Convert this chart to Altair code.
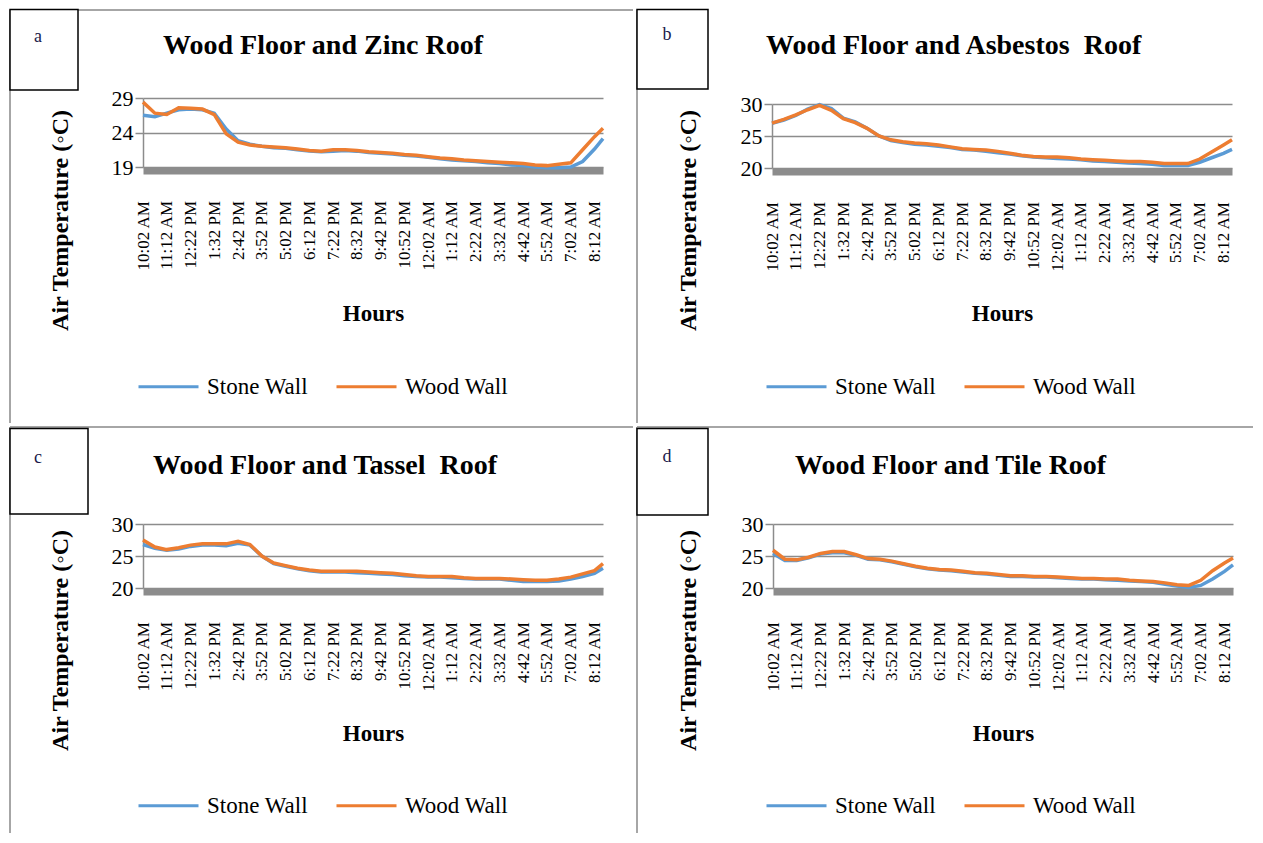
import altair as alt
import pandas as pd

# ---------------- data ----------------
minutes = list(range(0, 1331, 35)) + [1355]   # minutes after 10:02 AM
tick_values = list(range(0, 1331, 70))
tick_labels = ["10:02 AM", "11:12 AM", "12:22 PM", "1:32 PM", "2:42 PM", "3:52 PM",
               "5:02 PM", "6:12 PM", "7:22 PM", "8:32 PM", "9:42 PM", "10:52 PM",
               "12:02 AM", "1:12 AM", "2:22 AM", "3:32 AM", "4:42 AM", "5:52 AM",
               "7:02 AM", "8:12 AM"]
series_names = ["Stone Wall", "Wood Wall"]

zinc_stone = [26.5, 26.3, 26.8, 27.3, 27.4, 27.3, 26.8, 24.5, 22.8, 22.3, 22.0, 21.8, 21.7, 21.5,
              21.3, 21.2, 21.3, 21.4, 21.3, 21.1, 21.0, 20.9, 20.7, 20.6, 20.4, 20.2, 20.0, 19.9,
              19.8, 19.6, 19.5, 19.3, 19.2, 19.0, 18.9, 18.9, 19.0, 19.8, 21.6, 23.1]
zinc_wood = [28.4, 26.8, 26.6, 27.6, 27.5, 27.4, 26.6, 23.8, 22.6, 22.2, 22.0, 21.9, 21.8, 21.6,
             21.4, 21.3, 21.5, 21.5, 21.4, 21.2, 21.1, 21.0, 20.8, 20.7, 20.5, 20.3, 20.2, 20.0,
             19.9, 19.8, 19.7, 19.6, 19.5, 19.3, 19.2, 19.4, 19.6, 21.5, 23.4, 24.6]

asb_stone = [27.0, 27.5, 28.2, 29.2, 29.9, 29.3, 27.8, 27.2, 26.2, 25.0, 24.3, 24.0, 23.7, 23.6,
             23.4, 23.2, 22.9, 22.8, 22.6, 22.4, 22.2, 21.9, 21.7, 21.6, 21.5, 21.4, 21.3, 21.1,
             21.0, 20.9, 20.8, 20.7, 20.6, 20.4, 20.4, 20.4, 20.9, 21.6, 22.3, 22.9]
asb_wood = [27.0, 27.6, 28.3, 29.1, 29.8, 29.0, 27.7, 27.1, 26.2, 25.0, 24.4, 24.1, 23.9, 23.8,
            23.6, 23.3, 23.0, 22.9, 22.8, 22.6, 22.3, 22.0, 21.8, 21.7, 21.7, 21.6, 21.4, 21.3,
            21.2, 21.1, 21.0, 21.0, 20.9, 20.7, 20.7, 20.7, 21.4, 22.5, 23.6, 24.4]

tas_stone = [26.8, 26.2, 25.9, 26.1, 26.5, 26.7, 26.7, 26.6, 27.0, 26.7, 25.0, 23.8, 23.4, 23.0,
             22.7, 22.5, 22.5, 22.5, 22.4, 22.3, 22.2, 22.1, 21.9, 21.8, 21.7, 21.7, 21.6, 21.5,
             21.4, 21.4, 21.4, 21.2, 21.0, 21.0, 21.0, 21.1, 21.4, 21.8, 22.3, 23.1]
tas_wood = [27.5, 26.4, 26.0, 26.3, 26.7, 26.9, 26.9, 26.9, 27.3, 26.8, 25.0, 23.9, 23.5, 23.1,
            22.8, 22.6, 22.6, 22.6, 22.6, 22.5, 22.4, 22.3, 22.1, 21.9, 21.8, 21.8, 21.8, 21.6,
            21.5, 21.5, 21.5, 21.4, 21.3, 21.2, 21.2, 21.4, 21.7, 22.2, 22.7, 23.8]

tile_stone = [25.4, 24.3, 24.3, 24.7, 25.3, 25.5, 25.5, 25.1, 24.5, 24.4, 24.1, 23.7, 23.3, 23.0,
              22.8, 22.7, 22.5, 22.3, 22.2, 22.0, 21.8, 21.8, 21.7, 21.7, 21.6, 21.5, 21.4, 21.4,
              21.3, 21.2, 21.1, 21.0, 20.9, 20.6, 20.3, 20.1, 20.4, 21.4, 22.6, 23.6]
tile_wood = [25.9, 24.5, 24.4, 24.8, 25.4, 25.7, 25.7, 25.2, 24.6, 24.5, 24.2, 23.8, 23.4, 23.1,
             22.9, 22.8, 22.6, 22.4, 22.3, 22.1, 21.9, 21.9, 21.8, 21.8, 21.7, 21.6, 21.5, 21.5,
             21.4, 21.4, 21.2, 21.1, 21.0, 20.8, 20.5, 20.4, 21.2, 22.7, 23.9, 24.7]

# ---------------- style ----------------
SERIF = "Liberation Serif"
BLUE = "#5B9BD5"
ORANGE = "#ED7D31"
GRID = "#8c8c8c"
BORDER = "#a6a6a6"
W = 460

label_expr = "[" + ",".join("'%s'" % t for t in tick_labels) + "][round(datum.value/70)]"
one = alt.Data(values=[{"k": 0}])


def panel(p):
    ox, oy = p["origin"]            # page position of the plot area's top-left corner
    rx = lambda v: v - ox
    ry = lambda v: v - oy
    H = p["H"]
    df = pd.DataFrame({
        "minute": minutes + minutes,
        "temp": p["stone"] + p["wood"],
        "series": [series_names[0]] * len(minutes) + [series_names[1]] * len(minutes),
    })
    L, R, T, B = p["bounds"]
    layers = [alt.Chart(one).mark_rect(opacity=0).encode(
        x=alt.value(rx(L)), x2=alt.value(rx(R)), y=alt.value(ry(T)), y2=alt.value(ry(B)))]
    for (x1, x2, y1, y2) in p["rules"]:
        layers.append(alt.Chart(one).mark_rule(color=BORDER, strokeWidth=2).encode(
            x=alt.value(rx(x1)), x2=alt.value(rx(x2)), y=alt.value(ry(y1)), y2=alt.value(ry(y2))))
    bx = p["box"]
    layers.append(alt.Chart(one).mark_rect(fill="white", stroke="black", strokeWidth=1.5).encode(
        x=alt.value(rx(bx[0])), x2=alt.value(rx(bx[1])), y=alt.value(ry(bx[2])), y2=alt.value(ry(bx[3]))))
    layers.append(alt.Chart(one).mark_text(font=SERIF, fontSize=18, color="#1a1a4a",
                                           align="center", baseline="middle").encode(
        x=alt.value(rx(p["letter_pos"][0])), y=alt.value(ry(p["letter_pos"][1])),
        text=alt.value(p["letter"])))
    layers.append(alt.Chart(one).mark_text(font=SERIF, fontSize=28, fontWeight="bold",
                                           color="black", align="left", baseline="middle").encode(
        x=alt.value(rx(p["title_pos"][0])), y=alt.value(ry(p["title_pos"][1])),
        text=alt.value(p["title"])))

    lines_chart = alt.Chart(df).mark_line(strokeWidth=3.5).encode(
        x=alt.X("minute:Q",
                scale=alt.Scale(domain=[0, 1355], nice=False, zero=False),
                axis=alt.Axis(values=tick_values, labelExpr=label_expr, labelAngle=270,
                              labelFont=SERIF, labelFontSize=17, labelColor="black",
                              labelPadding=30, ticks=False, grid=False,
                              domainColor=GRID, domainWidth=7, offset=3.5,
                              labelOverlap=False, labelFlush=False, labelBound=False,
                              title="Hours", titleFont=SERIF, titleFontSize=23,
                              titleFontWeight="bold", titleColor="black",
                              titleX=W / 2, titleY=ry(p["hours_y"]) - H - 3.5,
                              titleAlign="center", titleBaseline="middle")),
        y=alt.Y("temp:Q",
                scale=alt.Scale(domain=p["ydom"], range=p["yrange"], nice=False, zero=False),
                axis=alt.Axis(values=p["yvals"], grid=True, gridColor=GRID, gridWidth=1.5,
                              domainColor=GRID, domainWidth=1.5, tickColor=GRID,
                              tickSize=8, tickWidth=1.5, labelFont=SERIF,
                              labelFontSize=22, labelColor="black", labelPadding=2,
                              title="Air Temperature (\u25e6C)", titleFont=SERIF,
                              titleFontSize=24, titleFontWeight="bold", titleColor="black",
                              titleX=rx(p["ytitle_pos"][0]), titleY=ry(p["ytitle_pos"][1]),
                              titleAngle=270, titleAlign="center", titleBaseline="middle")),
        color=alt.Color("series:N",
                        scale=alt.Scale(domain=series_names, range=[BLUE, ORANGE]),
                        legend=alt.Legend(orient="none",
                                          legendX=rx(p["legend_pos"][0]) - 3,
                                          legendY=ry(p["legend_pos"][1]) - 29,
                                          direction="horizontal",
                                          title=None, symbolType="stroke", symbolSize=3600,
                                          symbolStrokeWidth=3, labelFont=SERIF,
                                          labelFontSize=23, labelColor="black",
                                          labelOffset=7, columnPadding=22)),
    ).properties(width=W, height=H)
    layers.append(lines_chart)
    return alt.layer(*layers)


panels = [
    dict(letter="a", title="Wood Floor and Zinc Roof", stone=zinc_stone, wood=zinc_wood,
         ydom=[19, 29], yvals=[19, 24, 29], H=69, yrange=[69, 0], origin=(143, 98),
         bounds=(8, 635, 8, 425), rules=[(10, 633, 10, 10), (10, 10, 10, 423)],
         box=(10, 78, 9.5, 90), letter_pos=(38, 37), title_pos=(163, 46),
         ytitle_pos=(60, 220), legend_pos=(140, 384), hours_y=313),
    dict(letter="b", title="Wood Floor and Asbestos\u00a0 Roof", stone=asb_stone, wood=asb_wood,
         ydom=[20, 30], yvals=[20, 25, 30], H=70, yrange=[70, 6], origin=(772, 98),
         bounds=(635, 1255, 8, 425), rules=[(637, 637, 10, 423)],
         box=(637, 708, 9.5, 89), letter_pos=(667, 35), title_pos=(766, 46),
         ytitle_pos=(688, 220), legend_pos=(768, 384), hours_y=313),
    dict(letter="c", title="Wood Floor and Tassel\u00a0 Roof", stone=tas_stone, wood=tas_wood,
         ydom=[20, 30], yvals=[20, 25, 30], H=64, yrange=[64, 0], origin=(143, 524),
         bounds=(8, 635, 425, 835), rules=[(10, 633, 427, 427), (10, 10, 427, 833)],
         box=(10, 88, 428.5, 514), letter_pos=(38, 458), title_pos=(153, 466),
         ytitle_pos=(60, 640), legend_pos=(140, 803), hours_y=733),
    dict(letter="d", title="Wood Floor and Tile Roof", stone=tile_stone, wood=tile_wood,
         ydom=[20, 30], yvals=[20, 25, 30], H=64, yrange=[64, 0], origin=(773, 524),
         bounds=(635, 1255, 425, 835), rules=[(637, 1253, 427, 427), (637, 637, 427, 833)],
         box=(637, 708, 428.5, 515), letter_pos=(667, 457), title_pos=(795, 466),
         ytitle_pos=(688, 640), legend_pos=(768, 803), hours_y=733),
]

chart = alt.ConcatChart(
    concat=[panel(p) for p in panels], columns=2, spacing=0, align="none", bounds="full",
    padding=0,
).resolve_scale(color="independent").resolve_legend(color="independent").configure_view(stroke=None)

chart.save("out.html", embed_options={"renderer": "svg", "actions": False})
